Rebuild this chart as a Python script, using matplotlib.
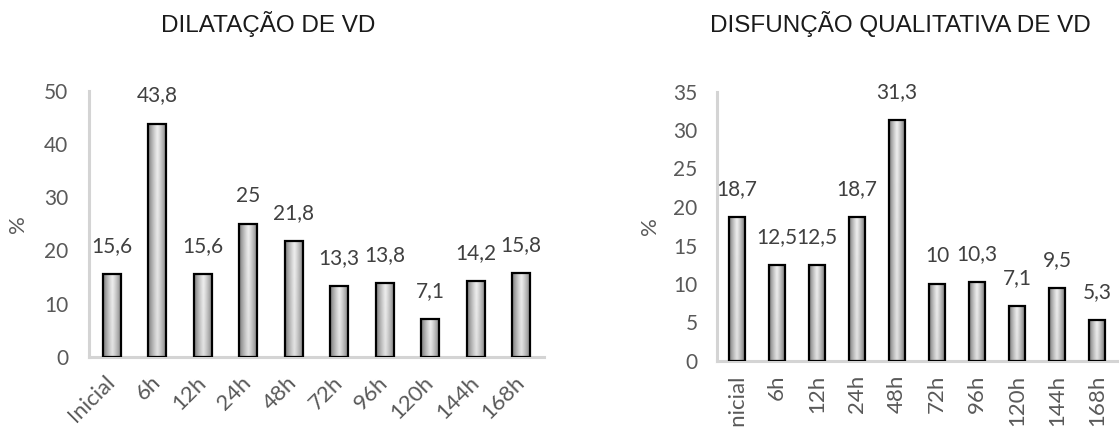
import matplotlib
matplotlib.use('Agg')
import matplotlib.pyplot as plt
from matplotlib.colors import LinearSegmentedColormap
import numpy as np

categorias = ['Inicial', '6h', '12h', '24h', '48h', '72h', '96h', '120h', '144h', '168h']
dilatacao = [15.6, 43.8, 15.6, 25, 21.8, 13.3, 13.8, 7.1, 14.2, 15.8]
disfuncao = [18.7, 12.5, 12.5, 18.7, 31.3, 10, 10.3, 7.1, 9.5, 5.3]

titulo_esq = 'DILATAÇÃO DE VD'
titulo_dir = 'DISFUNÇÃO QUALITATIVA DE VD'

LABEL_FONT = 'Lato'
TITLE_FONT = 'Liberation Sans'
GRAY = '#595959'
shade = LinearSegmentedColormap.from_list('shade', ['#7a7a7a', '#eeeeee'])


def fmt(v):
    '''Formats a value the way the source sheet does (comma decimal).'''
    if float(v).is_integer():
        return str(int(v))
    return ('%.1f' % v).replace('.', ',')


def gradient_bars(ax, values, width=0.4):
    '''Draws bars with a dark-light-dark horizontal shading.'''
    x = np.arange(len(values))
    bars = ax.bar(x, values, width=width, color='none', edgecolor='black',
                  linewidth=1.6, zorder=3)
    u = np.linspace(0, 1, 64)
    horiz = 1 - np.abs(2 * u - 1) ** 1.2
    vert = np.linspace(0.88, 1.0, 64)[:, None]
    grad = horiz[None, :] * vert
    for bar in bars:
        x0, y0 = bar.get_x(), bar.get_y()
        w, h = bar.get_width(), bar.get_height()
        im = ax.imshow(grad, cmap=shade, vmin=0, vmax=1, aspect='auto',
                       extent=(x0, x0 + w, y0, y0 + h), origin='lower', zorder=2)
        im.set_clip_path(bar)
    return bars


def style_axes(ax, values, ymax, ystep, ypad):
    ax.set_xlim(-0.5, len(values) - 0.5)
    ax.set_ylim(0, ymax)
    ax.set_yticks(np.arange(0, ymax + 0.1, ystep))
    for side in ['top', 'right']:
        ax.spines[side].set_visible(False)
    for side in ['left', 'bottom']:
        ax.spines[side].set_color('#d4d4d4')
        ax.spines[side].set_linewidth(2.2)
    ax.tick_params(length=0, colors=GRAY)
    ax.tick_params(axis='y', pad=ypad, labelsize=15)
    ax.tick_params(axis='x', labelsize=16)
    for lab in ax.get_yticklabels():
        lab.set_fontfamily(LABEL_FONT)
    ax.set_ylabel('%', color=GRAY, fontsize=16, fontfamily=LABEL_FONT)
    for i, v in enumerate(values):
        ax.annotate(fmt(v), (i, v), xytext=(0, 13), textcoords='offset points',
                    ha='center', va='bottom', fontsize=15, color='#404040',
                    fontfamily=LABEL_FONT)


fig = plt.figure(figsize=(11.2, 4.29), dpi=100)
W, H = 1120.0, 429.0

ax1 = fig.add_axes([89 / W, (H - 357) / H, 455 / W, (357 - 90.6) / H])
gradient_bars(ax1, dilatacao)
style_axes(ax1, dilatacao, 50, 10, 15)
ax1.set_xticks(np.arange(len(categorias)))
ax1.set_xticklabels(categorias, rotation=45, ha='right', va='center',
                    rotation_mode='anchor', fontfamily=LABEL_FONT)
ax1.tick_params(axis='x', pad=16)
ax1.yaxis.set_label_coords(-0.134, 0.5)
fig.text(268 / W, 1 - 32 / H, titulo_esq, ha='center', va='baseline',
         fontsize=17.5, fontfamily=TITLE_FONT, color='#1a1a1a')

ax2 = fig.add_axes([717 / W, (H - 361) / H, 400 / W, (361 - 91.5) / H])
gradient_bars(ax2, disfuncao)
style_axes(ax2, disfuncao, 35, 5, 14)
ax2.set_xticks(np.arange(len(categorias)))
ax2.set_xticklabels(categorias, rotation=90, ha='center', va='top',
                    fontfamily=LABEL_FONT)
ax2.tick_params(axis='x', pad=10)
ax2.yaxis.set_label_coords(-0.1425, 0.5)
fig.text(900 / W, 1 - 32 / H, titulo_dir, ha='center', va='baseline',
         fontsize=17.5, fontfamily=TITLE_FONT, color='#1a1a1a')

fig.savefig('out.png', dpi=100)
